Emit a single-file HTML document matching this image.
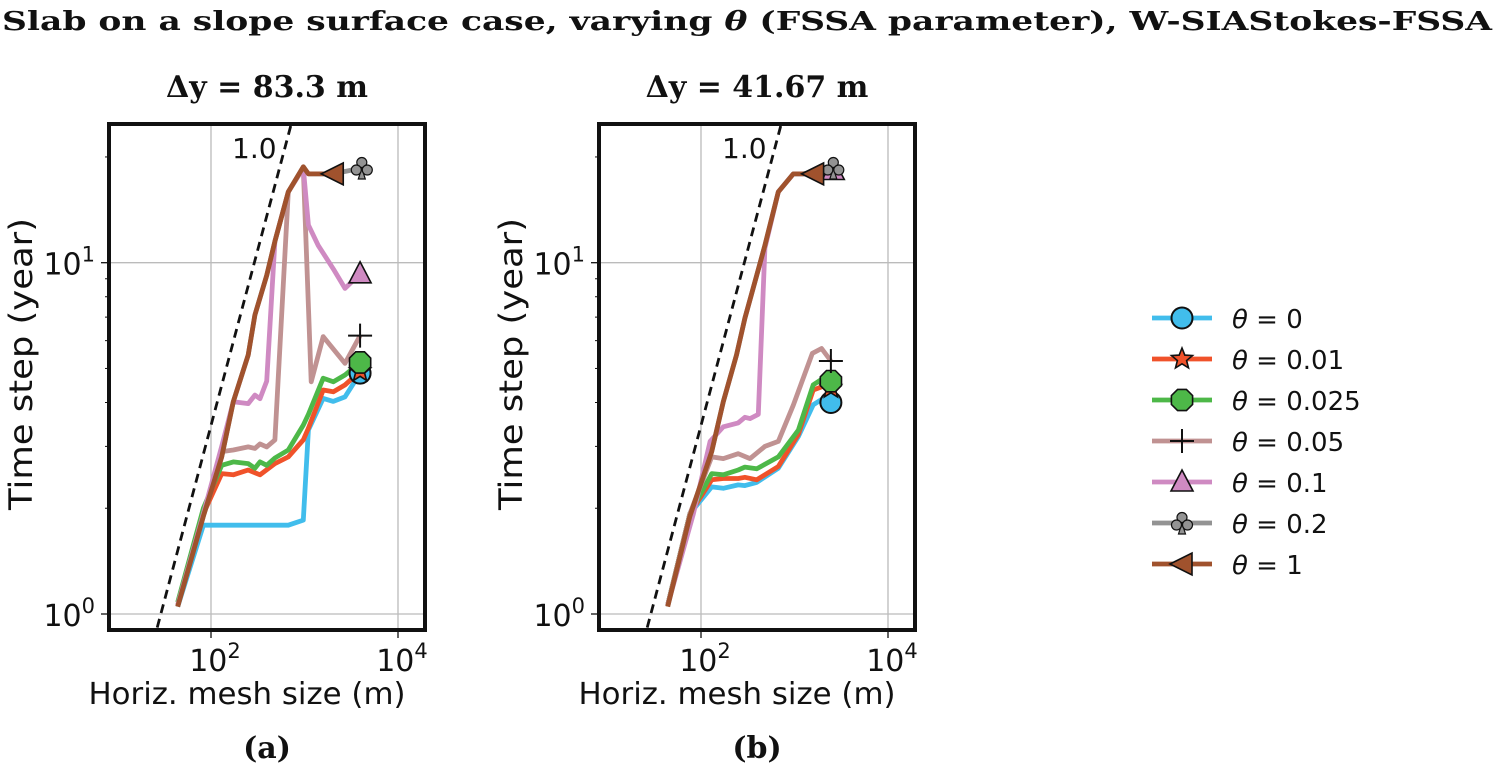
<!DOCTYPE html>
<html><head><meta charset="utf-8"><style>
body{margin:0;background:#fff;width:1496px;height:773px;overflow:hidden}
svg text{font-family:"DejaVu Sans","Liberation Sans",sans-serif;fill:#111}
.serif{font-family:"DejaVu Serif","Liberation Serif",serif;font-weight:bold}
</style></head><body>
<svg id="chart" width="1496" height="773" xmlns="http://www.w3.org/2000/svg">
<text class="serif" x="2" y="30" font-size="26" textLength="1490" lengthAdjust="spacingAndGlyphs">Slab on a slope surface case, varying <tspan font-style="italic">θ</tspan> (FSSA parameter), W-SIAStokes-FSSA</text>
<g id="pa"></g>
<g id="pb"></g>
<g id="legend"></g>
</svg>
<script>
// Panel (a) data: mesh size (m) and time step (year)
const aBlueX=[44,83,130,173,250,334,483,671,972,1100,1585,2030,2710,3930];
const aBlueY=[1.05,1.79,1.79,1.79,1.79,1.79,1.79,1.79,1.85,3.34,4.11,4.03,4.15,4.85];
const aRedX=[44,83,130,173,250,334,483,671,972,1100,1585,2030,2710,3930];
const aRedY=[1.06,1.93,2.51,2.49,2.57,2.49,2.68,2.80,3.13,3.38,4.34,4.29,4.49,4.9];
const aGreenX=[44,83,130,173,250,295,334,394,483,671,972,1100,1585,2030,2710,3930];
const aGreenY=[1.08,2.0,2.65,2.71,2.68,2.6,2.71,2.65,2.78,2.93,3.45,3.7,4.69,4.58,4.79,5.2];
const aRosyX=[44,83,130,173,250,295,334,394,483,671,972,1180,1585,2710,3930];
const aRosyY=[1.06,1.93,2.9,2.93,2.99,2.96,3.05,2.99,3.13,15.9,18.6,4.58,6.16,5.17,6.2];
const aPinkX=[44,83,130,173,250,295,334,394,483,671,972,1100,1400,2030,2710,3930];
const aPinkY=[1.06,1.93,3.0,4.02,3.97,4.2,4.1,4.6,11.5,15.9,18.6,12.8,11.2,9.6,8.45,9.3];
const aGrayX=[44,83,130,173,250,295,394,483,671,972,1100,2030,4100];
const aGrayY=[1.05,1.9,2.8,4.02,5.46,7.1,9.2,11.5,15.9,18.75,17.9,17.9,18.6];
const aBrownX=[44,83,130,173,250,295,394,483,671,972,1100,2030];
const aBrownY=[1.05,1.9,2.8,4.02,5.46,7.1,9.2,11.5,15.9,18.75,17.9,17.9];
// Panel (b) data
const bBlueX=[44,76,130,173,250,295,394,671,1100,1585,2030,2450];
const bBlueY=[1.06,1.93,2.30,2.28,2.33,2.32,2.37,2.60,3.2,3.94,4.11,4.0];
const bRedX=[44,76,130,173,250,295,394,671,1100,1585,2030,2450];
const bRedY=[1.06,1.93,2.41,2.43,2.43,2.45,2.41,2.63,3.25,4.34,4.45,4.4];
const bGreenX=[44,76,130,173,250,295,394,671,1100,1585,2030,2450];
const bGreenY=[1.06,1.93,2.51,2.49,2.57,2.62,2.59,2.80,3.34,4.49,4.69,4.6];
const bRosyX=[44,76,130,173,250,334,483,671,972,1550,1950,2450];
const bRosyY=[1.06,1.93,2.80,2.77,2.86,2.77,3.0,3.1,3.93,5.52,5.7,5.25];
const bPinkX=[44,83,125,173,250,295,334,410,483,671,972,1300,2600];
const bPinkY=[1.06,1.93,3.1,3.41,3.5,3.63,3.6,3.7,11.0,15.9,17.9,17.9,18.3];
const bGrayX=[44,76,130,173,240,295,394,483,671,972,1230,2600];
const bGrayY=[1.05,1.9,2.9,4.02,5.46,6.95,9.2,11.2,15.9,17.9,17.9,18.6];
const bBrownX=[44,76,130,173,240,295,394,483,671,972,1230,1600];
const bBrownY=[1.05,1.9,2.9,4.02,5.46,6.95,9.2,11.2,15.9,17.9,17.9,17.9];
const xTicks=[100,10000];
const xTickLabels=["2","4"];
const yTicks=[1,10];
const yTickLabels=["0","1"];
const legendLabels=["0","0.01","0.025","0.05","0.1","0.2","1"];
const refSlopeCoef=0.0344;

const NS="http://www.w3.org/2000/svg";
const colors=["#41bdec","#f0522a","#4db848","#c09292","#cf8ac2","#939393","#a0522d"];
const markers=["circle","star","octagon","plus","triangle","club","tri-left"];
function mk(tag,attrs,parent){const e=document.createElementNS(NS,tag);for(const k in attrs)e.setAttribute(k,attrs[k]);parent.appendChild(e);return e;}

function drawMarker(g,type,cx,cy,color){
  let e;
  if(type==="circle") e=mk("circle",{cx:cx,cy:cy,r:10.5,fill:color,stroke:"#111","stroke-width":2},g);
  else if(type==="star"){let p=[];for(let i=0;i<10;i++){const r=i%2?4.8:11;const a=-Math.PI/2+i*Math.PI/5;p.push((cx+r*Math.cos(a)).toFixed(1)+","+(cy+r*Math.sin(a)).toFixed(1));}
    e=mk("polygon",{points:p.join(" "),fill:color,stroke:"#111","stroke-width":1.6},g);}
  else if(type==="octagon"){let p=[];for(let i=0;i<8;i++){const a=Math.PI/8+i*Math.PI/4;p.push((cx+11.5*Math.cos(a)).toFixed(1)+","+(cy+11.5*Math.sin(a)).toFixed(1));}
    e=mk("polygon",{points:p.join(" "),fill:color,stroke:"#111","stroke-width":1.6},g);}
  else if(type==="plus") e=mk("path",{d:`M${cx-12},${cy}H${cx+12}M${cx},${cy-12}V${cy+12}`,stroke:"#111","stroke-width":2,fill:"none"},g);
  else if(type==="triangle") e=mk("polygon",{points:`${cx},${cy-12} ${cx-11},${cy+9} ${cx+11},${cy+9}`,fill:color,stroke:"#111","stroke-width":1.6},g);
  else if(type==="tri-left") e=mk("polygon",{points:`${cx-12},${cy} ${cx+10},${cy-11} ${cx+10},${cy+11}`,fill:color,stroke:"#111","stroke-width":1.6},g);
  else if(type==="club"){e=mk("g",{},g);
    mk("path",{d:`M${cx},${cy}L${cx-3.5},${cy+11}H${cx+3.5}Z`,fill:color,stroke:"#111","stroke-width":1.2},e);
    [[0,-5.5],[-5.5,2],[5.5,2]].forEach(o=>mk("circle",{cx:cx+o[0],cy:cy+o[1],r:5,fill:color,stroke:"#111","stroke-width":1.2},e));}
  
  
}

function panel(gid,L,R,T,B,g10x,series,title,cap){
  const g=document.getElementById(gid);
  const dec=93.5, lx0=2-(g10x-L)/dec;
  const y10=262.7, ydec=351.3;
  const X=v=>L+(Math.log10(v)-lx0)*dec;
  const Y=v=>y10-(Math.log10(v)-1)*ydec;
  const cx=(L+R)/2;
  const t=mk("text",{x:cx,y:97,"text-anchor":"middle","font-size":30,class:"serif"},g);t.textContent=title;
  
  const cl=mk("clipPath",{id:gid+"c"},g);mk("rect",{x:L,y:T,width:R-L,height:B-T},cl);
  const grid=mk("g",{},g);
  xTicks.forEach((v,i)=>{const x=X(v);mk("line",{x1:x,x2:x,y1:T,y2:B,stroke:"#bbb","stroke-width":1.3},grid);
    mk("line",{x1:x,x2:x,y1:B,y2:B+8,stroke:"#111","stroke-width":1.3},grid);
    const tx=mk("text",{x:x+4,y:671,"text-anchor":"middle","font-size":30},g);tx.innerHTML="10<tspan dy='-13' font-size='21'>"+xTickLabels[i]+"</tspan>";
    });
  yTicks.forEach((v,i)=>{const y=Y(v);mk("line",{x1:L,x2:R,y1:y,y2:y,stroke:"#bbb","stroke-width":1.3},grid);
    mk("line",{x1:L-8,x2:L,y1:y,y2:y,stroke:"#111","stroke-width":1.3},grid);
    const ty=mk("text",{x:L-14,y:y+12,"text-anchor":"end","font-size":30},g);ty.innerHTML="10<tspan dy='-13' font-size='21'>"+yTickLabels[i]+"</tspan>";
    });
  [2,3,4,5,6,7,8,9,20].forEach(v=>{const y=Y(v);if(y>T)mk("line",{x1:L-4,x2:L,y1:y,y2:y,stroke:"#111","stroke-width":1},grid);});
  const plot=mk("g",{"clip-path":`url(#${gid}c)`},g);
  const ref=mk("line",{x1:X(20),y1:Y(20*refSlopeCoef),x2:X(1000),y2:Y(1000*refSlopeCoef),stroke:"#111","stroke-width":2.8,"stroke-dasharray":"9,6"},plot);
  
  const rl=mk("text",{x:L+123,y:158,"font-size":28},g);rl.textContent="1.0";
  
  series.forEach((s,i)=>{
    const d=s[0].map((v,j)=>(j?"L":"M")+X(v).toFixed(1)+","+Y(s[1][j]).toFixed(1)).join("");
    const p=mk("path",{d:d,fill:"none",stroke:colors[i],"stroke-width":4.8,"stroke-linejoin":"round"},plot);
    
  });
  series.forEach((s,i)=>{const n=s[0].length-1;drawMarker(g,markers[i],X(s[0][n]),Y(s[1][n]),colors[i]);});
  const fr=mk("rect",{x:L,y:T,width:R-L,height:B-T,fill:"none",stroke:"#111","stroke-width":4},g);
  
  const xl=mk("text",{x:L+138,y:704,"text-anchor":"middle","font-size":30,textLength:317,lengthAdjust:"spacingAndGlyphs"},g);xl.textContent="Horiz. mesh size (m)";
  
  const yl=mk("text",{x:0,y:0,"text-anchor":"middle","font-size":32,textLength:292,lengthAdjust:"spacingAndGlyphs",transform:`translate(${L-77},${364}) rotate(-90)`},g);yl.textContent="Time step (year)";
  
  const c=mk("text",{x:cx,y:758,"text-anchor":"middle","font-size":30,class:"serif"},g);c.textContent=cap;
  
}
panel("pa",109,425,124,630,211,[[aBlueX,aBlueY],[aRedX,aRedY],[aGreenX,aGreenY],[aRosyX,aRosyY],[aPinkX,aPinkY],[aGrayX,aGrayY],[aBrownX,aBrownY]],"Δy = 83.3 m","(a)");
panel("pb",599,915,124,630,701,[[bBlueX,bBlueY],[bRedX,bRedY],[bGreenX,bGreenY],[bRosyX,bRosyY],[bPinkX,bPinkY],[bGrayX,bGrayY],[bBrownX,bBrownY]],"Δy = 41.67 m","(b)");

const lg=document.getElementById("legend");
legendLabels.forEach((lab,i)=>{
  const y=318+i*41;
  const e=mk("g",{},lg);
  
  
  mk("line",{x1:1152,x2:1212,y1:y,y2:y,stroke:colors[i],"stroke-width":4.8},e);
  drawMarker(e,markers[i],1182,y,colors[i]);
  const t=mk("text",{x:1232,y:y+10,"font-size":26},e);
  t.innerHTML="<tspan font-style='italic'>θ</tspan> = "+lab;
});
</script>
</body></html>
